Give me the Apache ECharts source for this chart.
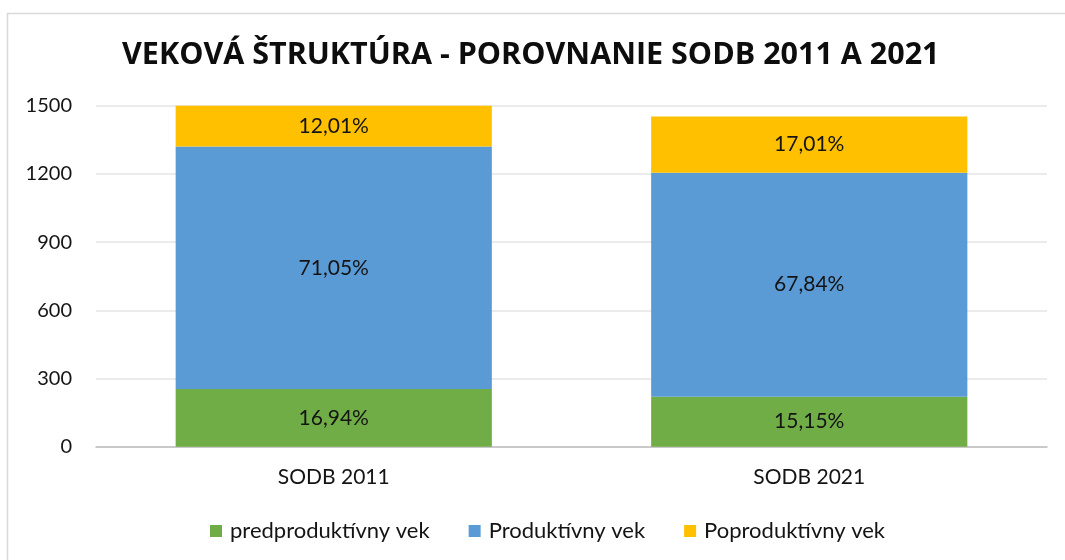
<!DOCTYPE html>
<html><head><meta charset="utf-8">
<script src="https://cdn.jsdelivr.net/npm/echarts@6/dist/echarts.min.js"></script>
<style>html,body{margin:0;padding:0;background:#fff}#c{width:1065px;height:560px}</style>
</head><body><div id="c"></div>
<script>
const categories = ['SODB 2011', 'SODB 2021'];
const seriesNames = ['predproduktívny vek', 'Produktívny vek', 'Poproduktívny vek'];
const predproduktivny = [254, 220];
const produktivny = [1066, 985];
const poproduktivny = [180, 247];
const labelsPred = ['16,94%', '15,15%'];
const labelsProd = ['71,05%', '67,84%'];
const labelsPoprod = ['12,01%', '17,01%'];
const yTicks = [0, 300, 600, 900, 1200, 1500];
const colors = ['#70AD47', '#5B9BD5', '#FFC000'];
const FONT = 'Lato';

function mk(name, vals, labels, color) {
  return {
    name: name, type: 'bar', stack: 'total', barWidth: '66.5%',
    data: vals,
    itemStyle: { color: color },
    label: {
      show: true, position: 'inside', color: '#141414', fontFamily: FONT, fontSize: 21,
      formatter: p => labels[p.dataIndex]
    }
  };
}

const chart = echarts.init(document.getElementById('c'), null, {renderer: 'canvas'});
chart.setOption({
  animation: false,
  title: {
    text: 'VEKOVÁ ŠTRUKTÚRA - POROVNANIE SODB 2011 A 2021',
    left: 117, top: 35,
    textStyle: { fontFamily: 'Open Sans', fontWeight: 'bold', fontSize: 30.5, color: '#0d0d0d' }
  },
  graphic: [{
    type: 'rect', shape: { x: 7.5, y: 13.5, width: 1070, height: 560 },
    style: { fill: 'none', stroke: '#D9D9D9', lineWidth: 1.5 }, silent: true
  }],
  legend: {
    bottom: 13, left: 205, itemWidth: 12, itemHeight: 12, itemGap: 39,
    icon: 'rect',
    textStyle: { fontFamily: FONT, fontSize: 22, color: '#141414', padding: [0, 0, 0, 3] },
    data: seriesNames
  },
  grid: { left: 96, right: 18, top: 105.7, bottom: 113.3 },
  xAxis: {
    type: 'category', data: categories,
    axisLine: { lineStyle: { color: '#BFBFBF', width: 1.5 } },
    axisTick: { show: false },
    axisLabel: { fontFamily: FONT, fontSize: 21, color: '#141414', margin: 20 }
  },
  yAxis: {
    type: 'value', min: yTicks[0], max: yTicks[yTicks.length - 1], interval: 300,
    axisLine: { show: false }, axisTick: { show: false },
    splitLine: { lineStyle: { color: '#E5E5E5', width: 1.5 } },
    axisLabel: { fontFamily: FONT, fontSize: 20, color: '#141414', margin: 24,
      formatter: v => String(v) }
  },
  series: [
    mk(seriesNames[0], predproduktivny, labelsPred, colors[0]),
    mk(seriesNames[1], produktivny, labelsProd, colors[1]),
    mk(seriesNames[2], poproduktivny, labelsPoprod, colors[2])
  ]
});
</script></body></html>
